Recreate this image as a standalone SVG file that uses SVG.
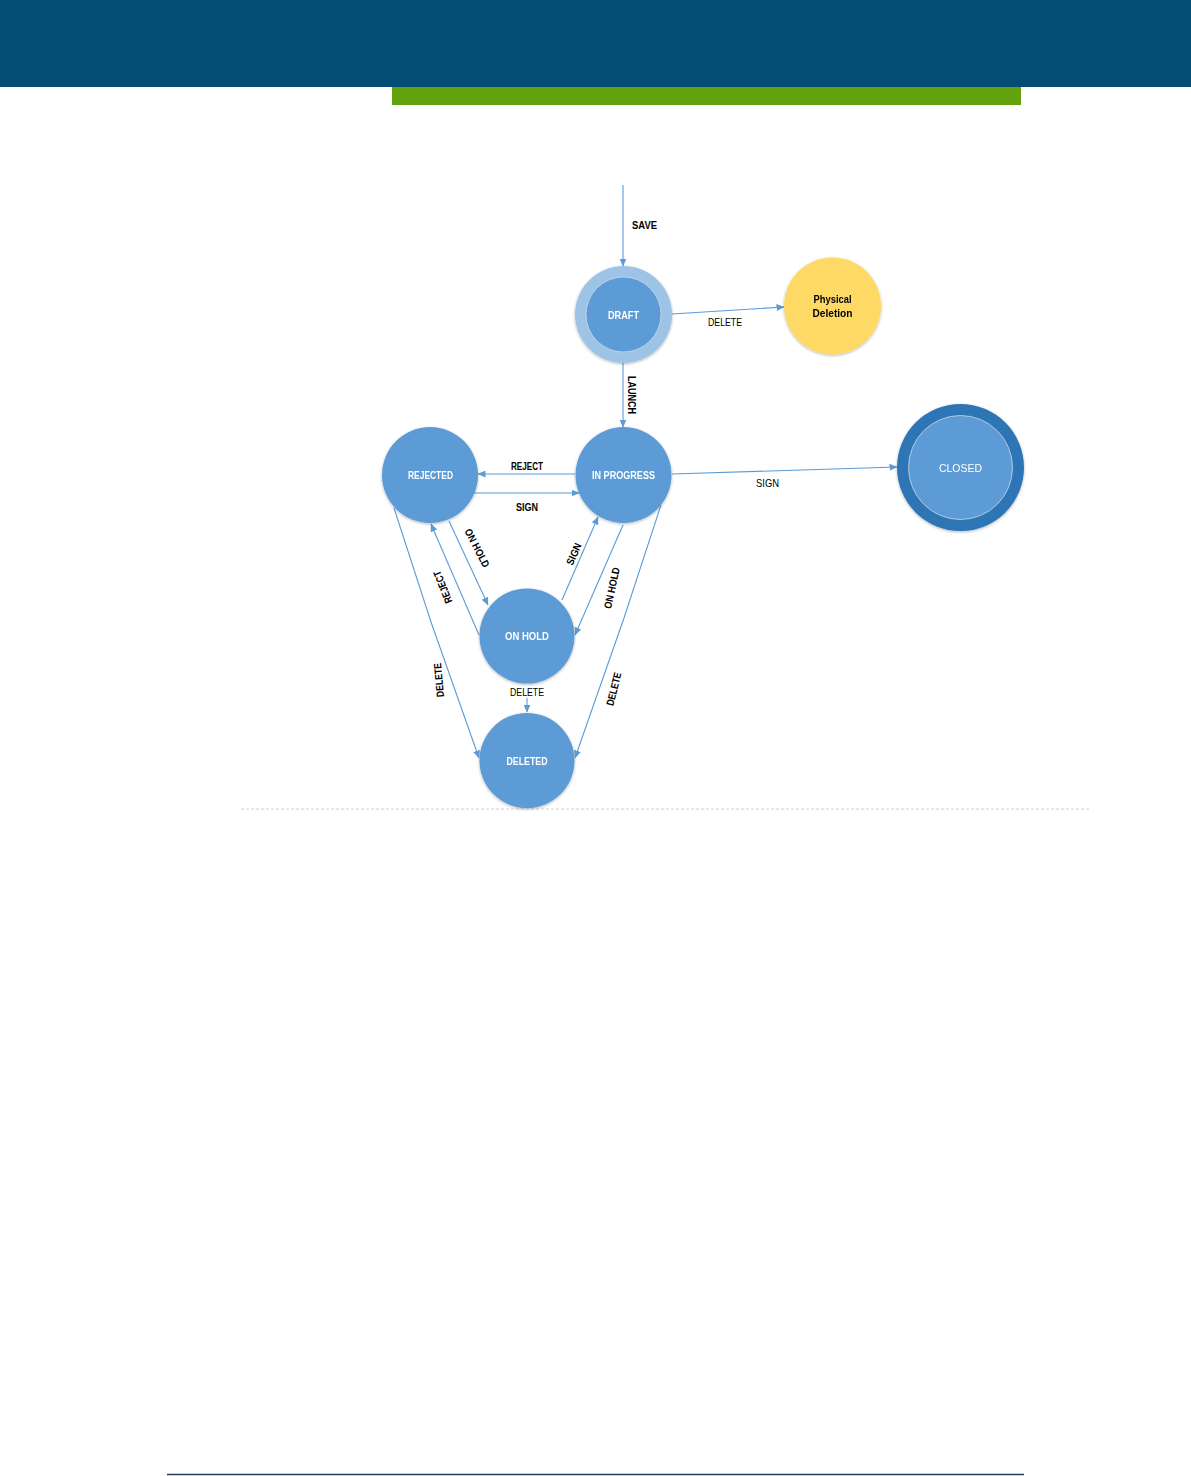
<svg xmlns="http://www.w3.org/2000/svg" width="1191" height="1476" viewBox="0 0 1191 1476">
<style>
.node{fill:#5b9bd5;}
.nt{font-family:"Liberation Sans",Arial,sans-serif;font-size:11px;font-weight:bold;fill:#ffffff;text-anchor:middle;}
.el{font-family:"Liberation Sans",Arial,sans-serif;font-size:10.5px;font-weight:bold;fill:#000000;text-anchor:middle;}
.elr{font-family:"Liberation Sans",Arial,sans-serif;font-size:10.5px;fill:#000000;text-anchor:middle;}
.edge{fill:none;stroke:#5b9bd5;stroke-width:1.1;marker-end:url(#arr);}
</style>
<defs>
<marker id="arr" markerUnits="userSpaceOnUse" markerWidth="8" markerHeight="7" refX="7.5" refY="3.5" orient="auto">
<path d="M0,0 L8,3.5 L0,7 Z" fill="#5b9bd5"/>
</marker>
<filter id="sh" x="-20%" y="-20%" width="140%" height="140%">
<feGaussianBlur in="SourceAlpha" stdDeviation="1.5"/>
<feOffset dx="0" dy="1" result="b"/>
<feComponentTransfer><feFuncA type="linear" slope="0.3"/></feComponentTransfer>
<feMerge><feMergeNode/><feMergeNode in="SourceGraphic"/></feMerge>
</filter>
</defs>
<rect x="0" y="0" width="1191" height="1476" fill="#ffffff"/>
<rect x="0" y="0" width="1191" height="87" fill="#034c73"/>
<rect x="392" y="87" width="629" height="18" fill="#62a30d"/>
<line x1="241" y1="809" x2="1090" y2="809" stroke="#d0d0d0" stroke-width="1" stroke-dasharray="3,2"/>
<line x1="167" y1="1474.5" x2="1024" y2="1474.5" stroke="#243f60" stroke-width="1.5"/>

<g id="connectors">
<line class="edge" x1="623" y1="185" x2="623" y2="266"/>
<text class="el" x="644.5" y="229" textLength="25" lengthAdjust="spacingAndGlyphs">SAVE</text>
<line class="edge" x1="672" y1="314" x2="784" y2="307"/>
<text class="elr" x="725" y="326" textLength="34" lengthAdjust="spacingAndGlyphs">DELETE</text>
<line class="edge" x1="623" y1="363" x2="623" y2="427"/>
<text class="el" transform="translate(628,395) rotate(90)" x="0" y="0" textLength="38" lengthAdjust="spacingAndGlyphs">LAUNCH</text>
<line class="edge" x1="575" y1="474" x2="478" y2="474"/>
<text class="el" x="527" y="470" textLength="32" lengthAdjust="spacingAndGlyphs">REJECT</text>
<line class="edge" x1="474" y1="493" x2="579" y2="493"/>
<text class="el" x="527" y="511" textLength="22" lengthAdjust="spacingAndGlyphs">SIGN</text>
<line class="edge" x1="672" y1="474" x2="897" y2="467"/>
<text class="elr" x="767.5" y="487" textLength="23" lengthAdjust="spacingAndGlyphs">SIGN</text>
<line class="edge" x1="449" y1="521" x2="488" y2="605"/>
<text class="el" transform="translate(477,548) rotate(63)" x="0" y="3.5" textLength="42" lengthAdjust="spacingAndGlyphs">ON HOLD</text>
<line class="edge" x1="479" y1="635" x2="431" y2="524"/>
<text class="el" transform="translate(443,587) rotate(-112)" x="0" y="3.5" textLength="34" lengthAdjust="spacingAndGlyphs">REJECT</text>
<line class="edge" x1="562" y1="600" x2="598" y2="517"/>
<text class="el" transform="translate(574,554) rotate(-66)" x="0" y="3.5" textLength="23" lengthAdjust="spacingAndGlyphs">SIGN</text>
<line class="edge" x1="623" y1="525" x2="575" y2="635"/>
<text class="el" transform="translate(612,588) rotate(-78)" x="0" y="3.5" textLength="42" lengthAdjust="spacingAndGlyphs">ON HOLD</text>
<line class="edge" x1="527" y1="698" x2="527" y2="712"/>
<text class="elr" x="527" y="696" textLength="34" lengthAdjust="spacingAndGlyphs">DELETE</text>
<polyline class="edge" points="394,508 431,622 479,758"/>
<text class="el" transform="translate(439,680) rotate(-95)" x="0" y="3.5" textLength="34" lengthAdjust="spacingAndGlyphs">DELETE</text>
<polyline class="edge" points="661,505 624,618 575,758"/>
<text class="el" transform="translate(614,689) rotate(-76)" x="0" y="3.5" textLength="34" lengthAdjust="spacingAndGlyphs">DELETE</text>
</g>

<g id="node-draft" filter="url(#sh)">
<circle cx="623.5" cy="314.5" r="48.5" fill="#9dc3e6"/>
<circle cx="623.5" cy="314.5" r="37.5" fill="#5b9bd5" stroke="#c9d9ea" stroke-width="0.8"/>
<text class="nt" x="623.5" y="318.5" textLength="31" lengthAdjust="spacingAndGlyphs">DRAFT</text>
</g>
<g id="node-physical-deletion" filter="url(#sh)">
<circle cx="832.5" cy="306" r="48.5" fill="#ffd966"/>
<text class="nt" x="832.5" y="303" style="fill:#000" textLength="38" lengthAdjust="spacingAndGlyphs">Physical</text>
<text class="nt" x="832.5" y="317" style="fill:#000" textLength="40" lengthAdjust="spacingAndGlyphs">Deletion</text>
</g>
<g id="node-in-progress" filter="url(#sh)">
<circle class="node" cx="623.5" cy="475" r="48"/>
<text class="nt" x="623.5" y="479" textLength="63" lengthAdjust="spacingAndGlyphs">IN PROGRESS</text>
</g>
<g id="node-rejected" filter="url(#sh)">
<circle class="node" cx="430" cy="475" r="48"/>
<text class="nt" x="430.5" y="479" textLength="45" lengthAdjust="spacingAndGlyphs">REJECTED</text>
</g>
<g id="node-on-hold" filter="url(#sh)">
<circle class="node" cx="527" cy="636" r="47.5"/>
<text class="nt" x="527" y="640" textLength="44" lengthAdjust="spacingAndGlyphs">ON HOLD</text>
</g>
<g id="node-deleted" filter="url(#sh)">
<circle class="node" cx="527" cy="760.5" r="47.5"/>
<text class="nt" x="527" y="764.5" textLength="41" lengthAdjust="spacingAndGlyphs">DELETED</text>
</g>
<g id="node-closed" filter="url(#sh)">
<circle cx="960.5" cy="467.5" r="63.5" fill="#2e75b6"/>
<circle cx="960.5" cy="467.5" r="52" fill="#5b9bd5" stroke="#c9d9ea" stroke-width="0.8"/>
<text class="nt" x="960.5" y="471.5" style="font-weight:normal" textLength="43" lengthAdjust="spacingAndGlyphs">CLOSED</text>
</g>
</svg>
